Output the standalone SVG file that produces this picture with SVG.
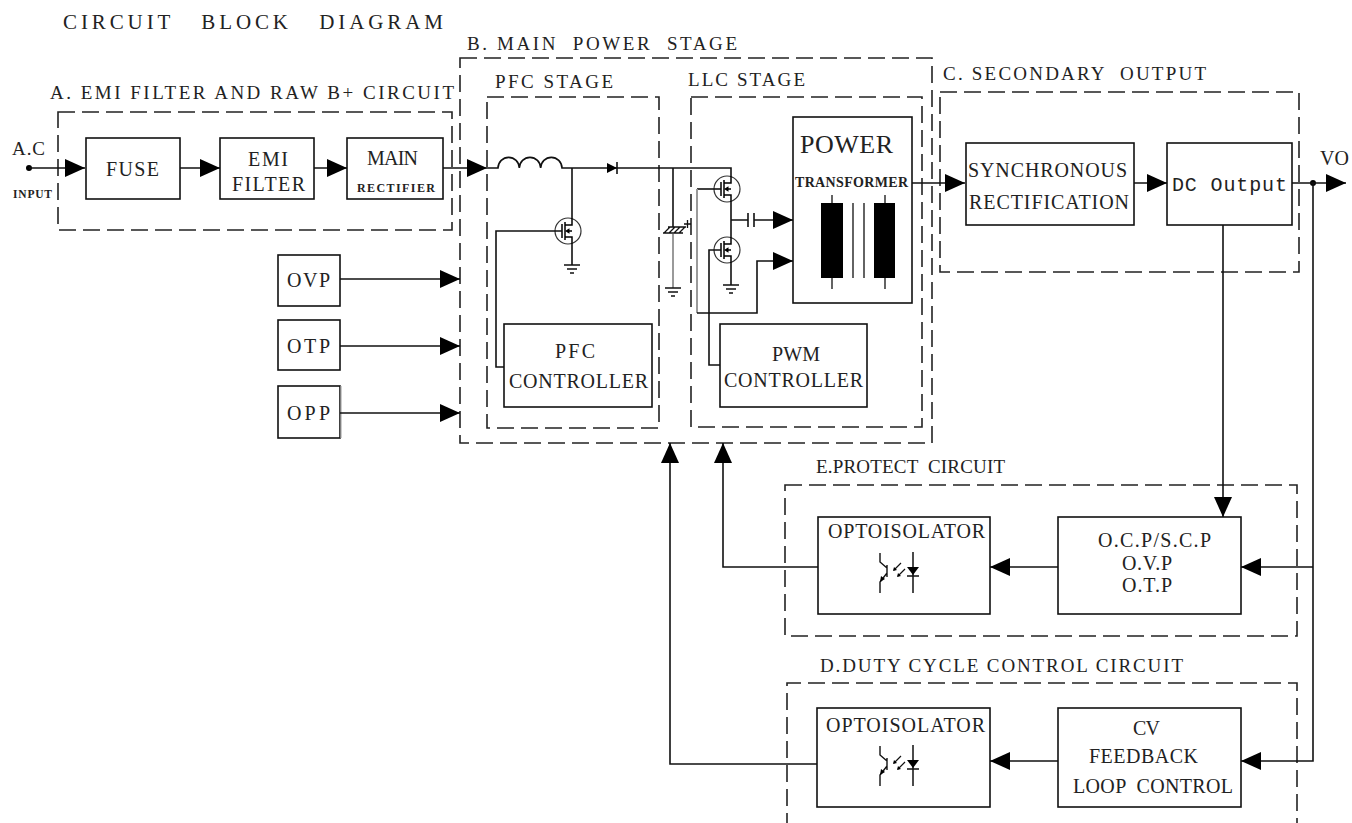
<svg xmlns="http://www.w3.org/2000/svg" width="1352" height="823" viewBox="0 0 1352 823">
<defs>
<style>
.t{font-family:"Liberation Serif","Times New Roman",serif;fill:#222;font-size:20px;white-space:pre}
.h{font-size:19px}
.s{font-size:11.5px;font-weight:bold}
.m{font-family:"Liberation Mono","Courier New",monospace;fill:#222;font-size:20px}
.box{fill:none;stroke:#111;stroke-width:1.6}
.dash{fill:none;stroke:#222;stroke-width:1.6;stroke-dasharray:17 7}
.w{fill:none;stroke:#111;stroke-width:1.6}
.a{fill:none;stroke:#111;stroke-width:1.6;marker-end:url(#ar)}
.g{fill:none;stroke:#9a9a9a;stroke-width:2}
.thin{fill:none;stroke:#111;stroke-width:1.3}
</style>
<marker id="ar" markerUnits="userSpaceOnUse" markerWidth="20" markerHeight="18" refX="20" refY="9" orient="auto"><path d="M0,0 L20,9 L0,18 Z" fill="#000"/></marker>
<g id="mos">
<circle r="13" fill="none" stroke="#333" stroke-width="1.2"/>
<path d="M-6,-7 V7 M-3,-9 V9 M-3,-6 H4 V-13 M-3,6 H4 V13 M4,0 H-1" stroke="#000" stroke-width="1.5" fill="none"/>
<path d="M-3,0 L1.5,-2.8 L1.5,2.8 Z" fill="#000"/>
</g>
<g id="gnd"><path d="M-8,0 H8 M-5,4 H5 M-2,8 H2" stroke="#111" stroke-width="1.4" fill="none"/></g>
<g id="opto">
<path d="M0,1 V10 L7,16 M7,13 V25 M7,21 L0,30 V41" stroke="#111" stroke-width="1.4" fill="none"/>
<path d="M0,30 L1,24 L5,27 Z" fill="#000"/>
<path d="M21,11 L14,18 M25,17 L18,24" stroke="#111" stroke-width="1.2" fill="none"/>
<path d="M13,19 L14,15 L17,18 Z M17,25 L18,21 L21,24 Z" fill="#000"/>
<path d="M33,0 V41 M27,24 H39" stroke="#111" stroke-width="1.5" fill="none"/>
<path d="M27,15 H39 L33,23 Z" fill="#000"/>
</g>
</defs>
<rect width="1352" height="823" fill="#fff"/>

<text class="t" x="63" y="29" style="font-size:21px" textLength="380">CIRCUIT   BLOCK   DIAGRAM</text>

<g id="sectionA">
<rect class="dash" x="58" y="112" width="394" height="118"/>
<text class="t h" x="50" y="99" textLength="404">A. EMI FILTER AND RAW B+ CIRCUIT</text>
</g>
<g id="sectionB">
<rect class="dash" x="460" y="58" width="472" height="385"/>
<text class="t h" x="467" y="50" textLength="270">B. MAIN  POWER  STAGE</text>
</g>
<g id="pfcStage">
<rect class="dash" x="487" y="97" width="172" height="331"/>
<text class="t h" x="495" y="88" textLength="118">PFC STAGE</text>
</g>
<g id="llcStage">
<rect class="dash" x="691" y="97" width="231" height="330"/>
<text class="t h" x="688" y="86" textLength="117">LLC STAGE</text>
</g>
<g id="sectionC">
<rect class="dash" x="940" y="92" width="359" height="180"/>
<text class="t h" x="943" y="80" textLength="263">C. SECONDARY  OUTPUT</text>
</g>
<g id="sectionE">
<rect class="dash" x="785" y="485" width="512" height="151"/>
<text class="t h" x="816" y="473" textLength="189">E.PROTECT  CIRCUIT</text>
</g>
<g id="sectionD">
<path class="dash" d="M787,830 V683 H1297 V830"/>
<text class="t h" x="820" y="672" textLength="363">D.DUTY CYCLE CONTROL CIRCUIT</text>
</g>

<g id="acInput">
<circle cx="29" cy="168" r="3" fill="#000"/>
<text class="t" x="12" y="155" style="font-size:19px" textLength="33">A.C</text>
<text class="t s" x="13" y="198" textLength="39">INPUT</text>
</g>
<g id="fuse">
<rect class="box" x="86" y="138" width="94" height="61"/>
<text class="t" x="106" y="176" textLength="53">FUSE</text>
</g>
<g id="emiFilter">
<rect class="box" x="220" y="138" width="94" height="61"/>
<text class="t" x="248" y="166" textLength="40">EMI</text>
<text class="t" x="232" y="191" textLength="73">FILTER</text>
</g>
<g id="mainRectifier">
<rect class="box" x="347" y="138" width="96" height="61"/>
<text class="t" x="367" y="165" textLength="51">MAIN</text>
<text class="t" x="357" y="192" style="font-size:12px;font-weight:bold" textLength="78">RECTIFIER</text>
</g>
<g id="ovp">
<rect class="box" x="278" y="255" width="62" height="51"/>
<text class="t" x="287" y="287" textLength="43">OVP</text>
</g>
<g id="otp">
<rect class="box" x="278" y="320" width="62" height="50"/>
<text class="t" x="287" y="353" textLength="43">OTP</text>
</g>
<g id="opp">
<rect class="box" x="278" y="386" width="62" height="52"/>
<path d="M341,386 V438" stroke="#aaa" stroke-width="1.2"/>
<text class="t" x="287" y="420" textLength="43">OPP</text>
</g>

<g id="pfcCircuit">
<path class="w" d="M487,168 H498 a10.67,11 0 0 1 21.33,0 a10.67,11 0 0 1 21.33,0 a10.67,11 0 0 1 21.33,0 H731 V176"/>
<path d="M607,163 L617,168 L607,173 Z" fill="#000"/>
<path class="w" d="M617,162 V174"/>
<path class="w" d="M572,168 V218 M572,244 V265"/>
<use href="#mos" x="568" y="231"/>
<use href="#gnd" x="572" y="265"/>
<path class="w" d="M562,231 H496 V367 H504"/>
<path class="w" d="M673,168 V227"/>
<path class="thin" d="M663,233 H683 M668,227 H686 M664,233 L670,227 M669,233 L675,227 M674,233 L680,227 M679,233 L685,227 M684,224 H691 M687.5,220 V228"/>
<path class="g" d="M673,234 V288"/>
<use href="#gnd" x="673" y="288"/>
</g>
<g id="pfcController">
<rect class="box" x="504" y="324" width="148" height="83"/>
<text class="t" x="555" y="358" textLength="40">PFC</text>
<text class="t" x="509" y="388" textLength="139">CONTROLLER</text>
</g>

<g id="llcCircuit">
<use href="#mos" x="727" y="189"/>
<use href="#mos" x="727" y="250"/>
<path class="w" d="M731,202 V237 M731,263 V285 M731,220 H748"/>
<use href="#gnd" x="731" y="285"/>
<path class="w" d="M748,213 V227 M754,213 V227"/>
<path class="w" d="M721,189 H697"/>
<path class="g" d="M697,189 V313"/>
<path class="w" d="M721,250 H709 V365 H720"/>
</g>
<g id="pwmController">
<rect class="box" x="720" y="324" width="147" height="83"/>
<text class="t" x="772" y="361" textLength="48">PWM</text>
<text class="t" x="724" y="387" textLength="139">CONTROLLER</text>
</g>
<g id="powerTransformer">
<rect class="box" x="793" y="117" width="119" height="186"/>
<text class="t" x="800" y="153" style="font-size:26px" textLength="93">POWER</text>
<text class="t" x="795" y="187" style="font-size:14px;font-weight:bold" textLength="113">TRANSFORMER</text>
<rect x="821" y="203" width="22" height="75" fill="#000"/>
<rect x="874" y="203" width="21" height="75" fill="#000"/>
<path class="thin" d="M853,203 V278 M864,203 V278 M832,195 V203 M832,278 V289 M885,195 V203 M885,278 V289"/>
</g>

<g id="syncRect">
<rect class="box" x="966" y="143" width="168" height="82"/>
<text class="t" x="968" y="177" textLength="159">SYNCHRONOUS</text>
<text class="t" x="969" y="209" textLength="160">RECTIFICATION</text>
</g>
<g id="dcOutput">
<rect class="box" x="1167" y="143" width="125" height="82"/>
<text class="m" x="1172" y="191" textLength="115">DC Output</text>
</g>
<g id="vo">
<circle cx="1313" cy="183" r="3" fill="#000"/>
<text class="t" x="1320" y="165">VO</text>
</g>

<g id="protectOpto">
<rect class="box" x="818" y="517" width="172" height="97"/>
<text class="t" x="828" y="538" textLength="157">OPTOISOLATOR</text>
<use href="#opto" x="880" y="552"/>
</g>
<g id="protectLogic">
<rect class="box" x="1058" y="517" width="183" height="97"/>
<text class="t" x="1098" y="547" textLength="113">O.C.P/S.C.P</text>
<text class="t" x="1122" y="570" textLength="50">O.V.P</text>
<text class="t" x="1122" y="592" textLength="50">O.T.P</text>
</g>
<g id="dutyOpto">
<rect class="box" x="817" y="708" width="173" height="99"/>
<text class="t" x="826" y="732" textLength="159">OPTOISOLATOR</text>
<use href="#opto" x="880" y="745"/>
</g>
<g id="cvFeedback">
<rect class="box" x="1058" y="708" width="183" height="99"/>
<text class="t" x="1133" y="735" textLength="27">CV</text>
<text class="t" x="1089" y="763" textLength="109">FEEDBACK</text>
<text class="t" x="1073" y="793" textLength="160">LOOP  CONTROL</text>
</g>

<g id="connectors">
<path class="a" d="M29,168 H85"/>
<path class="a" d="M180,168 H220"/>
<path class="a" d="M314,168 H347"/>
<path class="a" d="M443,168 H487"/>
<path class="a" d="M340,279 H460"/>
<path class="a" d="M340,346 H460"/>
<path class="a" d="M340,413 H460"/>
<path class="a" d="M754,220 H793"/>
<path class="a" d="M697,313 H757 V261 H793"/>
<path class="a" d="M912,183 H965"/>
<path class="a" d="M1134,183 H1167"/>
<path class="a" d="M1292,183 H1346"/>
<path class="a" d="M1223,225 V517"/>
<path class="a" d="M1313,183 V761 H1241"/>
<path class="a" d="M1313,567 H1241"/>
<path class="a" d="M1058,567 H990"/>
<path class="a" d="M1058,761 H990"/>
<path class="a" d="M818,567 H723 V443"/>
<path class="a" d="M817,764 H670 V443"/>
</g>
</svg>
